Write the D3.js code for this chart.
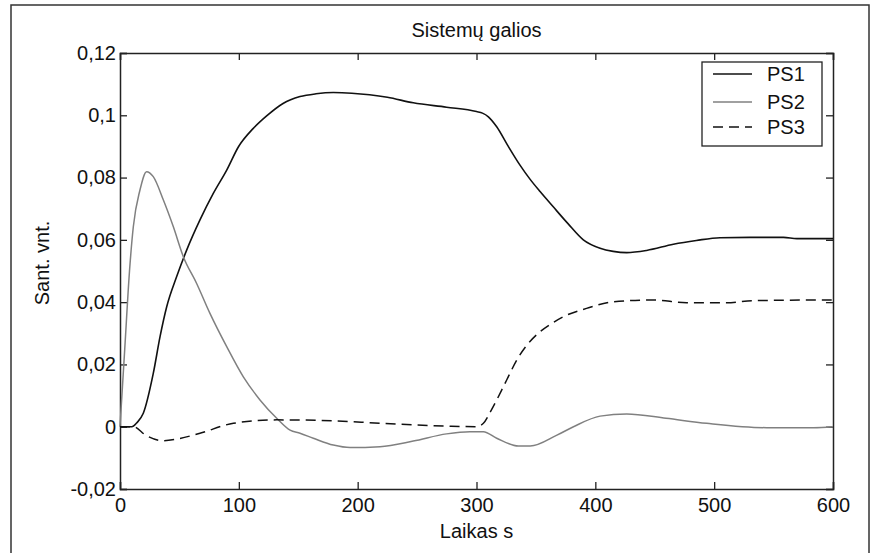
<!DOCTYPE html>
<html>
<head>
<meta charset="utf-8">
<script src="https://cdn.jsdelivr.net/npm/d3@7"></script>
<style>
  body { margin: 0; background: #fff; }
  text { font-family: "Liberation Sans", Arial, sans-serif; fill: #111; }
</style>
</head>
<body>
<div id="chart"></div>
<script>
// time samples (s) and values per series
var ps1T = [0, 10, 14, 19.6, 28, 33.7, 39.3, 47.7, 56.1, 67.3, 78.5, 89.8, 99.7, 112.2, 123.4, 137.2, 151.5, 165, 179.5, 195, 210, 225, 246.8, 274.8, 300, 305, 310, 317, 326, 336.6, 345, 353.5, 364.6, 377, 389.9, 404, 415, 426.4, 443.2, 465.7, 485, 504.9, 530, 558.4, 569.6, 600];
var ps1V = [0, 0, 0.0012, 0.0043, 0.0171, 0.0289, 0.0385, 0.0482, 0.0567, 0.0664, 0.0749, 0.0824, 0.0899, 0.0958, 0.0998, 0.1038, 0.106, 0.1069, 0.1073, 0.1071, 0.1066, 0.1058, 0.104, 0.1026, 0.1012, 0.1007, 0.0995, 0.0963, 0.0905, 0.084, 0.0795, 0.0755, 0.0706, 0.0652, 0.06, 0.0573, 0.0563, 0.0559, 0.0566, 0.0586, 0.0598, 0.0607, 0.0608, 0.0608, 0.0604, 0.0604];

var ps2T = [0, 4, 8, 11.2, 16.8, 22.4, 28, 36.5, 44.9, 53.3, 64.5, 75.7, 89.8, 103.8, 117.8, 131.9, 143.1, 151.5, 162.7, 179.5, 193.6, 218.8, 246.8, 274.8, 294.5, 305.8, 317, 335.3, 345.2, 367.7, 381.6, 404, 426.4, 459.5, 493.7, 544.2, 583.5, 600];
var ps2V = [0, 0.025, 0.05, 0.0642, 0.076, 0.0819, 0.0803, 0.0728, 0.0642, 0.0546, 0.046, 0.0364, 0.0257, 0.016, 0.0086, 0.0027, -0.0011, -0.0021, -0.0037, -0.0059, -0.0067, -0.0064, -0.0046, -0.0023, -0.0016, -0.0016, -0.0037, -0.0062, -0.0062, -0.0027, 0.0, 0.0034, 0.0041, 0.0027, 0.0011, -0.0003, -0.0003, 0];

var ps3T = [0, 11.2, 22, 36.5, 50, 67.3, 95.4, 131.9, 179.5, 218.8, 274.8, 300, 305.8, 312, 325.4, 334, 342, 352, 362, 373, 392.6, 415, 448.7, 476.8, 510.5, 533, 598.9];
var ps3V = [0, 0, -0.0028, -0.0045, -0.0038, -0.0021, 0.0011, 0.0022, 0.0019, 0.0011, 0.0002, 0, 0.0011, 0.005, 0.015, 0.0215, 0.026, 0.03, 0.0328, 0.0353, 0.038, 0.0401, 0.0407, 0.0398, 0.0398, 0.0405, 0.0407];

var xTicks = [0, 100, 200, 300, 400, 500, 600];
var yTicks = [-0.02, 0, 0.02, 0.04, 0.06, 0.08, 0.1, 0.12];
var seriesNames = ["PS1", "PS2", "PS3"];

const W = 873, H = 553;
const margin = {top: 53, right: 40, bottom: 64, left: 120};
const width = W - margin.left - margin.right,
      height = H - margin.top - margin.bottom;

const root = d3.select("#chart").append("svg")
  .attr("width", W)
  .attr("height", H);

// outer frame (its bottom edge runs off the page)
root.append("rect")
  .attr("x", 11).attr("y", 5)
  .attr("width", 858).attr("height", 600)
  .attr("fill", "none")
  .attr("stroke", "#333")
  .attr("stroke-width", 1.5);

const svg = root.append("g")
  .attr("transform", `translate(${margin.left},${margin.top})`);

const x = d3.scaleLinear().domain([0, 600]).range([0, width]);
const y = d3.scaleLinear().domain([-0.02, 0.12]).range([height, 0]);

const fmt = v => String(v).replace(".", ",");

// axes, ticks pointing inward on all four sides
const tickLen = 7;
svg.append("g")
  .attr("transform", `translate(0,${height})`)
  .call(d3.axisBottom(x).tickValues(xTicks).tickSize(-tickLen).tickPadding(9).tickFormat(d => d))
  .call(g => g.selectAll("text").style("font-size", "20px"));
svg.append("g")
  .call(d3.axisTop(x).tickValues(xTicks).tickSize(-tickLen).tickFormat(""));
svg.append("g")
  .call(d3.axisLeft(y).tickValues(yTicks).tickSize(-tickLen).tickPadding(4).tickFormat(fmt))
  .call(g => g.selectAll("text").style("font-size", "20px"));
svg.append("g")
  .attr("transform", `translate(${width},0)`)
  .call(d3.axisRight(y).tickValues(yTicks).tickSize(-tickLen).tickFormat(""));

svg.selectAll(".domain").attr("stroke", "#222").attr("stroke-width", 1.5);
svg.selectAll(".tick line").attr("stroke", "#222").attr("stroke-width", 1.3);

const line = d3.line()
  .x(d => x(d[0]))
  .y(d => y(d[1]))
  .curve(d3.curveMonotoneX);

const styles = [
  {color: "#111", dash: null, w: 1.6},
  {color: "#808080", dash: null, w: 1.5},
  {color: "#111", dash: "10,6", w: 1.5}
];
const series = [
  d3.zip(ps1T, ps1V),
  d3.zip(ps2T, ps2V),
  d3.zip(ps3T, ps3V)
];

series.forEach((s, i) => {
  svg.append("path")
    .datum(s)
    .attr("fill", "none")
    .attr("stroke", styles[i].color)
    .attr("stroke-width", styles[i].w)
    .attr("stroke-dasharray", styles[i].dash)
    .attr("d", line);
});

// title and axis labels
root.append("text")
  .attr("x", margin.left + width / 2)
  .attr("y", 37)
  .attr("text-anchor", "middle")
  .style("font-size", "20px")
  .text("Sistemų galios");

root.append("text")
  .attr("x", margin.left + width / 2)
  .attr("y", 538)
  .attr("text-anchor", "middle")
  .style("font-size", "20px")
  .text("Laikas s");

root.append("text")
  .attr("transform", "translate(49,263) rotate(-90)")
  .attr("text-anchor", "middle")
  .style("font-size", "20px")
  .text("Sant. vnt.");

// legend
const lg = root.append("g");
lg.append("rect")
  .attr("x", 702).attr("y", 62)
  .attr("width", 120).attr("height", 84)
  .attr("fill", "#fff")
  .attr("stroke", "#222")
  .attr("stroke-width", 1.3);
const legendY = [74, 102, 127];
seriesNames.forEach((name, i) => {
  lg.append("line")
    .attr("x1", 713).attr("x2", 752)
    .attr("y1", legendY[i]).attr("y2", legendY[i])
    .attr("stroke", styles[i].color)
    .attr("stroke-width", styles[i].w)
    .attr("stroke-dasharray", styles[i].dash);
  lg.append("text")
    .attr("x", 767)
    .attr("y", legendY[i] + 7)
    .style("font-size", "20px")
    .text(name);
});
</script>
</body>
</html>
